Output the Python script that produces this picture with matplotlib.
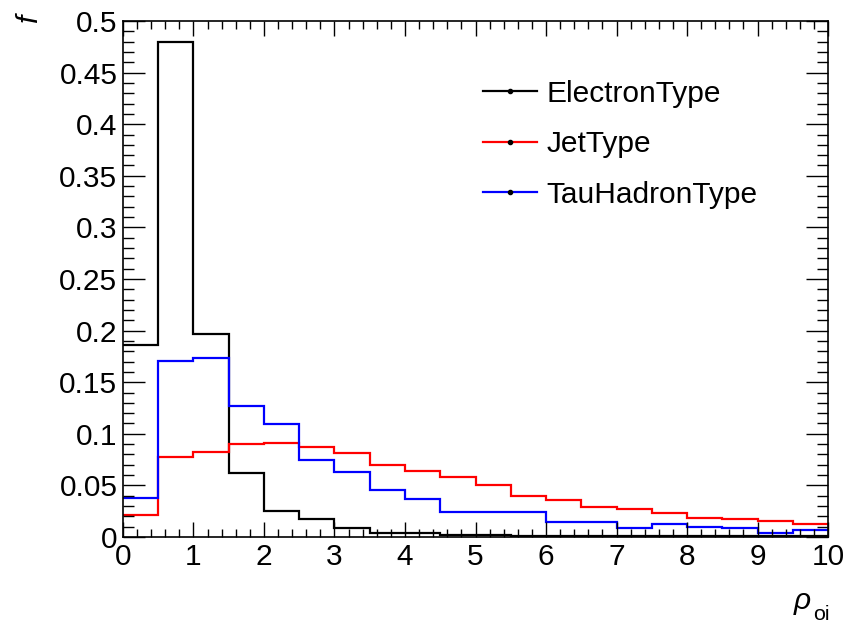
import numpy as np
import matplotlib
matplotlib.use("Agg")
import matplotlib.pyplot as plt
from matplotlib.lines import Line2D
from matplotlib.ticker import MultipleLocator, FuncFormatter

plt.rcParams["font.family"] = ["Liberation Sans", "DejaVu Sans"]
plt.rcParams["mathtext.fontset"] = "custom"
plt.rcParams["mathtext.it"] = "Liberation Sans:italic"
plt.rcParams["mathtext.rm"] = "Liberation Sans"

EDGES = np.arange(0, 10.01, 0.5)

ELECTRON = [0.186, 0.480, 0.197, 0.062, 0.025, 0.017, 0.009, 0.004, 0.004, 0.002,
            0.002, 0.001, 0.001, 0.001, 0.001, 0.0008, 0.0008, 0.0006, 0.0005, 0.0005]
JET = [0.021, 0.078, 0.082, 0.090, 0.091, 0.0875, 0.081, 0.070, 0.064, 0.058,
       0.050, 0.040, 0.036, 0.029, 0.027, 0.0236, 0.018, 0.0174, 0.0155, 0.0123]
TAU = [0.038, 0.171, 0.173, 0.127, 0.1095, 0.075, 0.063, 0.0455, 0.0365, 0.0245,
       0.0245, 0.024, 0.0145, 0.015, 0.009, 0.0126, 0.010, 0.0084, 0.0042, 0.0068]

SERIES = [
    ("ElectronType", ELECTRON, "black"),
    ("JetType", JET, "#ff0000"),
    ("TauHadronType", TAU, "#0000ff"),
]

FS = 21.5

fig = plt.figure(figsize=(8.47, 6.30), dpi=100)
ax = fig.add_axes([0.1452, 0.1476, 0.9776 - 0.1452, 0.9667 - 0.1476])

handles = []
for name, vals, color in SERIES:
    ax.stairs(vals, EDGES, color=color, linewidth=1.6, baseline=None)
    handles.append(Line2D([], [], color=color, linewidth=1.6, marker="o",
                          markersize=3, markerfacecolor="black",
                          markeredgecolor="black", label=name))

ax.set_xlim(0, 10)
ax.set_ylim(0, 0.5)

ax.xaxis.set_major_locator(MultipleLocator(1))
ax.xaxis.set_minor_locator(MultipleLocator(0.2))
ax.yaxis.set_major_locator(MultipleLocator(0.05))
ax.yaxis.set_minor_locator(MultipleLocator(0.01))
ax.yaxis.set_major_formatter(FuncFormatter(lambda v, p: "%g" % round(v, 3)))
ax.xaxis.set_major_formatter(FuncFormatter(lambda v, p: "%g" % v))

ax.tick_params(which="both", direction="in", top=True, right=True,
               width=1.0, labelsize=FS, pad=4)
ax.tick_params(axis="x", which="major", length=11)
ax.tick_params(axis="x", which="minor", length=5.5)
ax.tick_params(axis="y", which="major", length=16)
ax.tick_params(axis="y", which="minor", length=8)
for s in ax.spines.values():
    s.set_linewidth(1.2)

fig.text(30 / 847, 1 - 18 / 630, "$f$", fontsize=FS, rotation=90,
         ha="center", va="center")
fig.text(812 / 847, 1 - 603 / 630, r"$\rho$", fontsize=FS,
         ha="right", va="center")
fig.text(813 / 847, 1 - 614 / 630, "oi", fontsize=FS * 0.72,
         ha="left", va="center")

ax.legend(handles=handles, loc="upper left", bbox_to_anchor=(0.511, 0.886),
          frameon=False, fontsize=FS, handlelength=1.8, handletextpad=0.33,
          labelspacing=0.75, borderpad=0, borderaxespad=0)

fig.savefig("out.png", dpi=100)
